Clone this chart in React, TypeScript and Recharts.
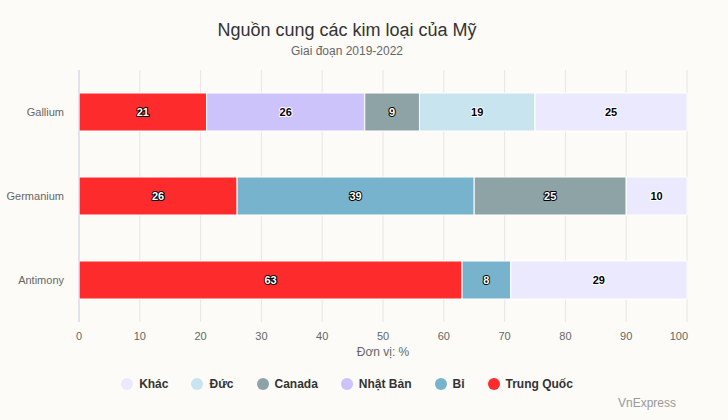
import React from 'react'
import { BarChart, Bar, XAxis, YAxis, CartesianGrid, LabelList } from 'recharts'

const categories = ['Gallium', 'Germanium', 'Antimony']
const trungQuoc = [21, 26, 63]
const bi = [0, 39, 8]
const nhatBan = [26, 0, 0]
const canada = [9, 25, 0]
const duc = [19, 0, 0]
const khac = [25, 10, 29]
const xTicks = [0, 10, 20, 30, 40, 50, 60, 70, 80, 90, 100]

// stacking order from the left, legend shows it reversed
const series = [
  { key: 'tq', name: 'Trung Quốc', values: trungQuoc, color: '#fe2b2c', dark: true },
  { key: 'bi', name: 'Bỉ', values: bi, color: '#78b3cd', dark: true },
  { key: 'nb', name: 'Nhật Bản', values: nhatBan, color: '#cbc3fa', dark: false },
  { key: 'ca', name: 'Canada', values: canada, color: '#8ea3a6', dark: true },
  { key: 'duc', name: 'Đức', values: duc, color: '#c8e4ef', dark: false },
  { key: 'khac', name: 'Khác', values: khac, color: '#ebe9fd', dark: false },
]

const data = categories.map((name, i) => {
  const row: Record<string, string | number> = { name }
  series.forEach((s) => (row[s.key] = s.values[i]))
  return row
})

const font = 'Arial, "Liberation Sans", Helvetica, sans-serif'

const makeLabel = (dark: boolean) => (props: any) => {
  const { x, y, width, height, value } = props
  if (!value) return null
  return (
    <text
      x={x + width / 2}
      y={y + height / 2}
      textAnchor="middle"
      dominantBaseline="central"
      fontFamily={font}
      fontSize={11}
      fontWeight="bold"
      fill={dark ? '#ffffff' : '#000000'}
      stroke={dark ? '#000000' : '#ffffff'}
      strokeWidth={2}
      strokeLinejoin="round"
      paintOrder="stroke"
    >
      {value}
    </text>
  )
}

const XTick = (props: any) => {
  const { x, y, payload } = props
  const last = payload.value === 100
  return (
    <text
      x={last ? x + 1 : x}
      y={y + 2}
      dy="0.71em"
      textAnchor={last ? 'end' : 'middle'}
      fontFamily={font}
      fontSize={11}
      fill="#666666"
    >
      {payload.value}
    </text>
  )
}

const App = () => {
  return (
    <div
      style={{
        position: 'absolute',
        left: 0,
        top: 0,
        width: 728,
        height: 420,
        background: '#fcfbf8',
        fontFamily: font,
        overflow: 'hidden',
      }}
    >
      <div style={{ position: 'absolute', top: 20, left: 0, width: 694, textAlign: 'center', fontSize: 18, color: '#333333' }}>
        Nguồn cung các kim loại của Mỹ
      </div>
      <div style={{ position: 'absolute', top: 44, left: 0, width: 694, textAlign: 'center', fontSize: 12, color: '#666666' }}>
        Giai đoạn 2019-2022
      </div>

      <BarChart
        width={728}
        height={420}
        data={data}
        layout="vertical"
        margin={{ top: 70, right: 41, bottom: 68, left: 0 }}
        barCategoryGap={0}
      >
        <CartesianGrid horizontal={false} stroke="#e6e6e6" />
        <XAxis
          type="number"
          domain={[0, 100]}
          ticks={xTicks}
          axisLine={false}
          tickLine={false}
          tick={<XTick />}
          height={30}
        />
        <YAxis
          type="category"
          dataKey="name"
          width={79}
          axisLine={{ stroke: '#ccd6eb' }}
          tickLine={false}
          tickMargin={9}
          tick={{ fontSize: 11, fill: '#666666', fontFamily: font }}
        />
        {series.map((s) => (
          <Bar
            key={s.key}
            dataKey={s.key}
            name={s.name}
            stackId="a"
            fill={s.color}
            stroke="#ffffff"
            strokeWidth={1}
            barSize={38}
            isAnimationActive={false}
          >
            <LabelList dataKey={s.key} content={makeLabel(s.dark)} />
          </Bar>
        ))}
      </BarChart>

      <div style={{ position: 'absolute', top: 345, left: 79, width: 608, textAlign: 'center', fontSize: 12, color: '#666666' }}>
        Đơn vị: %
      </div>

      <div
        style={{
          position: 'absolute',
          top: 377,
          left: 0,
          width: 694,
          display: 'flex',
          justifyContent: 'center',
          gap: 23,
        }}
      >
        {[...series].reverse().map((s) => (
          <div key={s.key} style={{ display: 'flex', alignItems: 'center', gap: 6 }}>
            <span style={{ width: 12, height: 12, borderRadius: 6, background: s.color, display: 'inline-block' }} />
            <span style={{ fontSize: 12, fontWeight: 'bold', color: '#333333' }}>{s.name}</span>
          </div>
        ))}
      </div>

      <div style={{ position: 'absolute', top: 396, right: 52, fontSize: 12, color: '#999999' }}>VnExpress</div>
    </div>
  )
}

export default App
